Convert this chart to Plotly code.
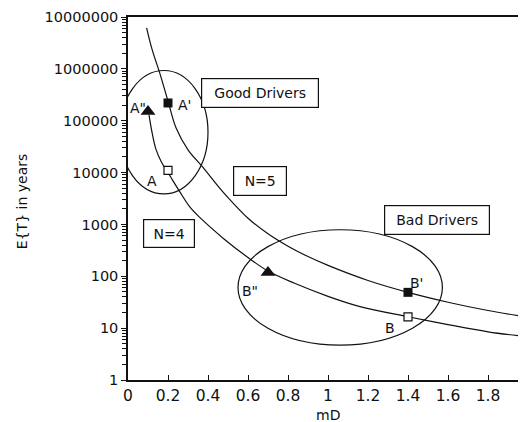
import math
import plotly.graph_objects as go

# ---- data ----
n5_x = [0.093, 0.12, 0.16, 0.2, 0.24, 0.3, 0.375, 0.45, 0.5, 0.6, 0.7, 0.8, 0.9, 1.0, 1.2, 1.4, 1.6, 1.8, 2.0]
n5_y = [6.2e6, 2.4e6, 8.0e5, 2.4e5, 7.3e4, 2.75e4, 1.26e4, 5500, 3300, 1320, 660, 380, 240, 162, 83, 49, 31.6, 21.9, 16.2]

n4_x = [0.105, 0.12, 0.14, 0.167, 0.2, 0.225, 0.26, 0.31, 0.36, 0.48, 0.6, 0.7, 0.83, 1.0, 1.16, 1.4, 1.6, 1.8, 2.0]
n4_y = [1.3e5, 6.0e4, 2.8e4, 1.6e4, 1.0e4, 6900, 4200, 2150, 1350, 525, 230, 126, 74, 41, 26, 16.6, 11.7, 8.5, 6.8]

open_sq_x = [0.2, 1.4]          # A, B
open_sq_y = [11000, 16.5]
fill_sq_x = [0.2, 1.4]          # A', B'
fill_sq_y = [2.2e5, 49]
tri_x = [0.1, 0.7]              # A'', B''
tri_y = [1.5e5, 118]

y_tick_vals = [1, 10, 100, 1000, 10000, 100000, 1000000, 10000000]
y_tick_text = ["1", "10", "100", "1000", "10000", "100000", "1000000", "10000000"]

FONT = "DejaVu Sans"
BLACK = "#111111"

fig = go.Figure()
fig.add_trace(go.Scatter(x=n5_x, y=n5_y, mode="lines", line=dict(color=BLACK, width=1.2, shape="spline"),
                         showlegend=False, hoverinfo="skip"))
fig.add_trace(go.Scatter(x=n4_x, y=n4_y, mode="lines", line=dict(color=BLACK, width=1.2, shape="spline"),
                         showlegend=False, hoverinfo="skip"))
fig.add_trace(go.Scatter(x=open_sq_x, y=open_sq_y, mode="markers",
                         marker=dict(symbol="square", size=8, color="white", line=dict(color=BLACK, width=1.2)),
                         showlegend=False))
fig.add_trace(go.Scatter(x=fill_sq_x, y=fill_sq_y, mode="markers",
                         marker=dict(symbol="square", size=9, color=BLACK),
                         showlegend=False))
fig.add_trace(go.Scatter(x=tri_x, y=tri_y, mode="markers",
                         marker=dict(symbol="triangle-up", size=13, color=BLACK),
                         showlegend=False))

# ellipses (data coordinates)
fig.add_shape(type="circle", xref="x", yref="y", x0=-0.0415, x1=0.40, y0=3890, y1=9.3e5,
              line=dict(color=BLACK, width=1.2))
fig.add_shape(type="circle", xref="x", yref="y", x0=0.55, x1=1.572, y0=4.7, y1=790,
              line=dict(color=BLACK, width=1.2))

def box(text, x, y, w, h):
    fig.add_annotation(x=x, y=math.log10(y), xref="x", yref="y", text=text, showarrow=False,
                       font=dict(family=FONT, size=14, color=BLACK), bordercolor=BLACK, borderwidth=1.2,
                       borderpad=0, width=w, height=h, bgcolor="white")

box("Good Drivers", 0.661, 10 ** 5.53, 116, 28)
box("N=5", 0.659, 10 ** 3.84, 52, 28)
box("N=4", 0.2045, 10 ** 2.83, 50, 27)
box("Bad Drivers", 1.544, 10 ** 3.09, 104, 28)

def lab(text, x, y):
    fig.add_annotation(x=x, y=math.log10(y), xref="x", yref="y", text=text, showarrow=False,
                       font=dict(family=FONT, size=14, color=BLACK))

lab('A"', 0.05, 10 ** 5.24)
lab("A'", 0.284, 10 ** 5.31)
lab("A", 0.122, 10 ** 3.83)
lab('B"', 0.61, 10 ** 1.72)
lab("B'", 1.44, 10 ** 1.87)
lab("B", 1.31, 10 ** 1.0)

# axis titles as text placed relative to the plot area
fig.add_annotation(x=0, y=0.49, xref="paper", yref="paper", xanchor="center", yanchor="middle",
                   xshift=-106, text="E{T} in years",
                   textangle=-90, showarrow=False, font=dict(family=FONT, size=14, color=BLACK))
fig.add_annotation(x=0.5, y=0, xref="paper", yref="paper", xanchor="center", yanchor="middle",
                   yshift=-35, text="mD", showarrow=False, font=dict(family=FONT, size=14, color=BLACK))

minor_vals = [m * 10 ** k for k in range(0, 7) for m in range(2, 10)]

# the page body has an 8px margin; the figure is sized/placed so the plot lands where the reference has it
fig.update_layout(
    width=530, height=432,
    margin=dict(l=120, r=10, t=9, b=60),
    paper_bgcolor="white", plot_bgcolor="white",
    font=dict(family=FONT, size=15, color=BLACK),
    xaxis=dict(range=[0, 2], dtick=0.2, tick0=0, showgrid=False, zeroline=False, automargin=False,
               showline=True, linecolor=BLACK, linewidth=1.5, mirror=True,
               ticks="inside", ticklen=5, tickcolor=BLACK, ticklabelstandoff=1,
               tickfont=dict(family=FONT, size=15.5, color=BLACK)),
    yaxis=dict(type="log", range=[0, 7], tickvals=y_tick_vals, ticktext=y_tick_text, automargin=False,
               showgrid=False, zeroline=False, showline=True, linecolor=BLACK, linewidth=1.5,
               ticks="outside", ticklen=5, tickcolor=BLACK,
               minor=dict(tickvals=minor_vals, ticks="outside", ticklen=4, tickcolor=BLACK, showgrid=False),
               tickfont=dict(family=FONT, size=14.5, color=BLACK)),
)

fig.write_html("out.html")
